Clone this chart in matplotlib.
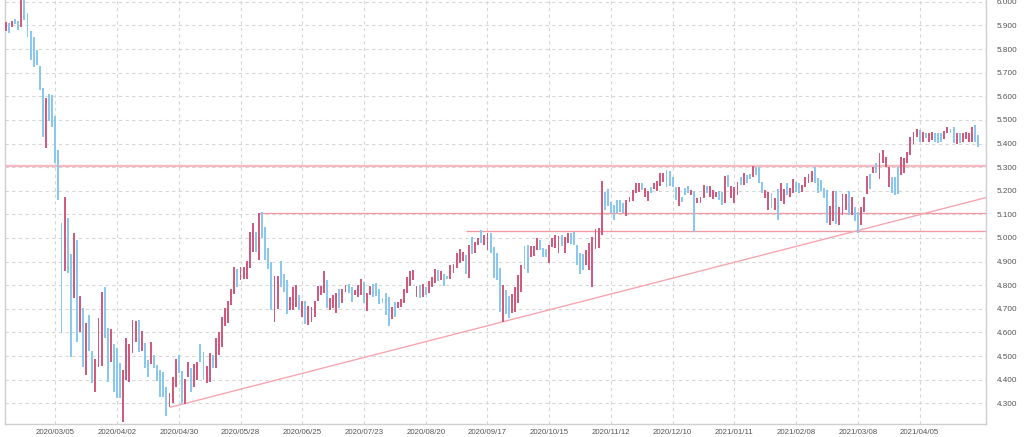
import matplotlib
matplotlib.use("Agg")
import matplotlib.pyplot as plt
import numpy as np

# ---- data ----
highs = [5.914,5.910,5.921,5.929,5.921,6.05,6.05,5.955,5.878,5.850,5.797,5.730,5.634,5.592,5.610,5.606,
         5.517,5.373,5.065,5.172,5.083,4.932,5.020,4.992,4.754,4.702,4.641,4.674,4.523,4.487,4.662,4.770,
         4.794,4.617,4.613,4.549,4.532,4.469,4.441,4.575,4.549,4.652,4.648,4.652,4.607,4.554,4.483,4.561,
         4.504,4.462,4.441,4.434,4.370,4.342,4.410,4.487,4.504,4.438,4.401,4.476,4.448,4.466,4.476,4.551,
         4.519,4.458,4.514,4.504,4.575,4.603,4.664,4.702,4.731,4.783,4.876,4.868,4.876,4.879,4.903,5.027,
         5.062,5.027,5.105,5.109,5.048,4.956,4.900,4.841,4.838,4.904,4.848,4.822,4.752,4.791,4.801,4.759,
         4.735,4.735,4.712,4.709,4.735,4.797,4.797,4.858,4.822,4.745,4.759,4.766,4.783,4.783,4.801,4.805,
         4.794,4.780,4.801,4.826,4.815,4.766,4.797,4.805,4.808,4.783,4.745,4.766,4.752,4.709,4.730,4.730,
         4.742,4.783,4.836,4.858,4.865,4.797,4.801,4.805,4.794,4.819,4.834,4.867,4.865,4.858,4.848,4.839,
         4.886,4.890,4.935,4.952,4.942,4.928,4.971,5.003,4.985,4.999,5.034,5.013,5.023,5.023,4.963,4.935,
         4.872,4.801,4.780,4.754,4.763,4.791,4.843,4.886,4.966,4.971,4.964,4.964,4.999,4.992,4.956,4.952,
         4.971,4.999,5.013,5.009,5.013,5.006,5.023,5.020,5.027,4.971,4.938,4.932,4.949,4.978,5.006,5.037,
         5.041,5.242,5.196,5.206,5.154,5.140,5.161,5.161,5.147,5.161,5.175,5.203,5.232,5.232,5.232,5.211,
         5.201,5.218,5.232,5.243,5.277,5.274,5.288,5.285,5.260,5.218,5.218,5.175,5.211,5.220,5.203,5.201,
         5.168,5.172,5.225,5.220,5.220,5.203,5.196,5.199,5.196,5.263,5.267,5.220,5.215,5.239,5.260,5.277,
         5.267,5.271,5.305,5.302,5.302,5.239,5.203,5.196,5.189,5.168,5.206,5.232,5.206,5.232,5.211,5.249,
         5.239,5.232,5.225,5.257,5.271,5.285,5.302,5.253,5.246,5.210,5.204,5.136,5.201,5.201,5.133,5.187,
         5.187,5.201,5.175,5.133,5.112,5.130,5.172,5.263,5.271,5.302,5.317,5.359,5.373,5.345,5.300,5.257,
         5.257,5.302,5.342,5.338,5.365,5.426,5.450,5.460,5.457,5.450,5.446,5.443,5.450,5.443,5.443,5.443,
         5.454,5.468,5.460,5.471,5.443,5.443,5.443,5.450,5.443,5.468,5.478,5.436]
lows = [5.877,5.867,5.895,5.907,5.881,5.895,5.924,5.853,5.754,5.726,5.733,5.627,5.429,5.380,5.497,5.469,
        5.316,5.161,4.599,4.862,4.850,4.494,4.744,4.561,4.603,4.452,4.419,4.523,4.384,4.349,4.452,4.458,
        4.575,4.391,4.476,4.349,4.321,4.321,4.222,4.398,4.391,4.511,4.558,4.518,4.521,4.448,4.412,4.466,
        4.448,4.395,4.325,4.325,4.246,4.282,4.299,4.370,4.429,4.302,4.297,4.412,4.346,4.370,4.398,4.476,
        4.400,4.387,4.390,4.448,4.448,4.504,4.540,4.625,4.641,4.716,4.762,4.791,4.822,4.825,4.827,4.872,
        4.942,4.942,4.907,4.999,4.907,4.867,4.695,4.646,4.700,4.794,4.773,4.678,4.695,4.695,4.709,4.695,
        4.664,4.636,4.632,4.646,4.664,4.735,4.759,4.766,4.702,4.695,4.702,4.681,4.702,4.723,4.773,4.766,
        4.730,4.759,4.752,4.759,4.723,4.692,4.759,4.752,4.754,4.721,4.723,4.674,4.629,4.656,4.667,4.702,
        4.706,4.726,4.766,4.797,4.822,4.749,4.745,4.752,4.759,4.766,4.794,4.808,4.819,4.822,4.797,4.825,
        4.826,4.850,4.872,4.893,4.904,4.848,4.829,4.932,4.938,4.971,4.978,4.971,4.949,4.938,4.829,4.822,
        4.688,4.646,4.678,4.660,4.684,4.688,4.723,4.773,4.867,4.851,4.921,4.924,4.949,4.947,4.918,4.918,
        4.896,4.963,4.956,4.935,4.966,4.938,4.978,4.975,4.971,4.886,4.848,4.865,4.886,4.865,4.791,4.952,
        4.956,5.013,5.119,5.136,5.105,5.076,5.105,5.112,5.105,5.091,5.154,5.158,5.189,5.196,5.203,5.175,
        5.158,5.189,5.206,5.201,5.220,5.235,5.218,5.220,5.215,5.161,5.136,5.154,5.182,5.189,5.182,5.027,
        5.150,5.147,5.168,5.192,5.175,5.164,5.175,5.161,5.140,5.147,5.215,5.168,5.150,5.182,5.225,5.225,
        5.232,5.249,5.260,5.267,5.232,5.189,5.168,5.119,5.126,5.119,5.076,5.158,5.144,5.182,5.175,5.192,
        5.196,5.189,5.196,5.218,5.232,5.239,5.232,5.189,5.197,5.168,5.062,5.055,5.070,5.060,5.055,5.098,
        5.119,5.098,5.098,5.070,5.020,5.055,5.112,5.187,5.207,5.277,5.274,5.249,5.317,5.300,5.215,5.190,
        5.183,5.187,5.267,5.274,5.317,5.351,5.398,5.429,5.408,5.408,5.422,5.408,5.415,5.408,5.404,5.408,
        5.418,5.443,5.443,5.404,5.398,5.404,5.408,5.418,5.408,5.408,5.408,5.386]
# 'r' = rising bar (red), 'b' = falling bar (blue); 16 bars per chunk
direction = ("rbrbbrbbbbbbbrbb" "bbbrbbrbrbrbbrrr" "bbrbbbrrrrrbrbbr" "bbbbbrrrbbrrbrrb"
             "brrbrrrrrrrbrrrr" "rbrbbbbrrbbbrrrb" "rbrrrrrrbrrrbrrb" "brrrbrrbbbbbbrbr"
             "rrrrrrbrbrrrbrbb" "rrrrrbrbrrbrrbbb" "brbbrrrrbbrrrbbb" "rrrrbrrbbbbbrrrr"
             "rrbbbbbbbrrrrrbr" "rbrrrrbbbbrbbbrb" "rrrbrrrbbrbrrrbr" "bbrbbbrrbrbrrbrr"
             "bbrrrrbbbbbrrbrr" "rbrbbrrrbrbrrrrb" "bbrrrrrrbrbrrbbb" "rrbbrbrrrrbb")

tick_pos = [16, 36, 56, 76, 96, 116, 136, 156, 176, 196, 216, 236, 256, 276, 296]
tick_labels = ["2020/03/05", "2020/04/02", "2020/04/30", "2020/05/28", "2020/06/25",
               "2020/07/23", "2020/08/20", "2020/09/17", "2020/10/15", "2020/11/12",
               "2020/12/10", "2021/01/11", "2021/02/08", "2021/03/08", "2021/04/05"]
y_ticks = [4.3, 4.4, 4.5, 4.6, 4.7, 4.8, 4.9, 5.0, 5.1, 5.2, 5.3, 5.4, 5.5, 5.6, 5.7, 5.8, 5.9, 6.0]

# horizontal levels: (value, start index)
levels = [(5.305, -1), (5.105, 82), (5.030, 149.2)]
trend_x = [53.3, 317.5]
trend_y = [4.283, 5.171]

# ---- plot ----
plt.rcParams['font.family'] = ['Liberation Sans', 'DejaVu Sans']
fig = plt.figure(figsize=(10.24, 4.37), dpi=100)
ax = fig.add_axes([5/1024, 13/437, 981/1024, 424/437])

n = len(highs)
x = np.arange(n)
hi = np.array(highs); lo = np.array(lows)
cols = ['#d25a7c' if c == 'r' else '#8ac8f0' for c in direction[:n]]
ax.bar(x, hi - lo, bottom=lo, width=0.62, color=cols, linewidth=0, zorder=3)

xmin, xmax = -0.3, 317.5
ax.set_xlim(xmin, xmax)
ax.set_ylim(4.212, 6.008)

# levels
ax.hlines(levels[0][0], xmin, xmax, color='#f6b9bf', lw=1.7, zorder=2)
for v, s in levels[1:]:
    ax.hlines(v, s, xmax, color='#f29aa4', lw=0.95, zorder=2)
ax.plot(trend_x, trend_y, color='#f6a3ad', lw=0.95, zorder=2)

ax.set_xticks(tick_pos)
ax.set_xticklabels(tick_labels)
ax.set_yticks(y_ticks)
ax.set_yticklabels([f"{v:.3f}" for v in y_ticks])
ax.yaxis.tick_right()
ax.tick_params(axis='y', length=0, pad=8, labelsize=5.9, labelcolor='#555555')
ax.tick_params(axis='x', length=0, pad=3.5, labelsize=5.7, labelcolor='#555555')
for lab in ax.get_yticklabels():
    lab.set_horizontalalignment('left')

ax.grid(True, color='#d6d6d6', linestyle=(0, (3, 3)), linewidth=0.8, zorder=0)
ax.set_axisbelow(True)
ax.spines['top'].set_visible(False)
for s in ['left', 'right', 'bottom']:
    ax.spines[s].set_color('#cfcfcf')
    ax.spines[s].set_linewidth(1.0)

fig.savefig("out.png", dpi=100)
